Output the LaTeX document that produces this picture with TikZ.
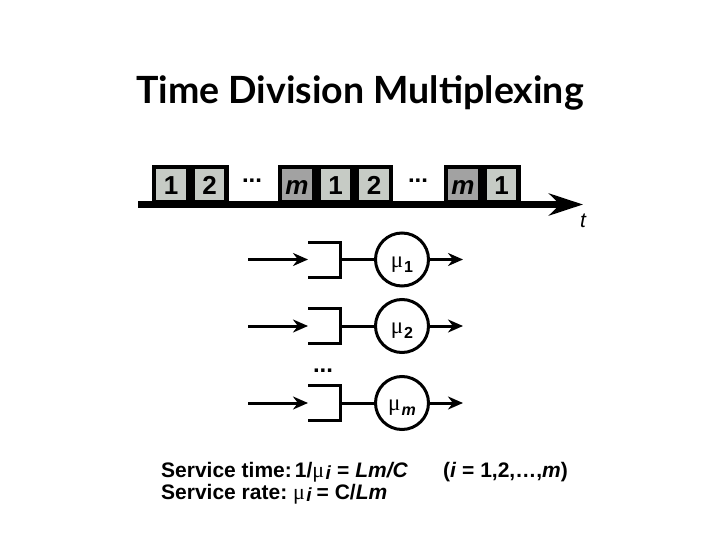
\documentclass[tikz,border=0pt]{standalone}
\usepackage{fontspec}
\setmainfont{Liberation Sans}
\newfontfamily\titlefont{Lato}
\newfontfamily\greekfont{Liberation Serif}
\usetikzlibrary{arrows.meta}
\definecolor{cSlot}{HTML}{C6CBC5}
\definecolor{cSlotM}{HTML}{A2A2A2}
\tikzset{
  slot/.style={draw=black, line width=4.5pt, fill=cSlot, minimum width=34pt,
    minimum height=35.5pt, inner sep=0pt, text height=18.5pt, text depth=0pt,
    font=\fontsize{26}{26}\selectfont\bfseries},
  mslot/.style={slot, fill=cSlotM},
  dotsl/.style={anchor=base, inner sep=0pt, font=\fontsize{24}{24}\selectfont\bfseries},
  queue/.style={minimum width=32pt, minimum height=35pt, inner sep=0pt, outer sep=0pt},
  qline/.style={line width=3pt},
  server/.style={circle, draw, line width=3pt, minimum size=53pt, inner sep=0pt,
    text height=15pt, text depth=0pt, font=\fontsize{23}{23}\selectfont},
  flow/.style={-{Stealth[length=15pt, width=13pt]}, line width=3pt},
  axis/.style={-{Stealth[length=34pt, width=22pt]}, line width=7pt},
  txt/.style={anchor=base west, inner sep=0pt, font=\fontsize{21}{21}\selectfont\bfseries},
}
\newcommand{\mulab}[1]{{\greekfont μ}\kern1pt\raisebox{-5pt}{\fontsize{16}{16}\selectfont\bfseries #1}}
\newcommand{\mutxt}{{\greekfont\mdseries\fontsize{22}{22}\selectfont μ}\kern1.5pt\raisebox{-2pt}{\fontsize{19}{19}\selectfont\itshape i}}

\begin{document}
\begin{tikzpicture}[x=1pt, y=-1pt]
    \path[use as bounding box, fill=white] (0,0) rectangle (720,540);
    % --- title ---
    \node[anchor=base, inner sep=0pt, font=\titlefont\fontsize{37.5}{37.5}\selectfont\bfseries]
      (title) at (360,104) {Time Division Multiplexing};
    % --- time slots ---
    \node[slot] (a1) at (171,185) {1};
    \node[slot] (a2) at (209.5,185) {2};
    \node[dotsl] (d1) at (252,183) {...};
    \node[mslot] (bm) at (297,185) {\itshape m};
    \node[slot] (b1) at (335.5,185) {1};
    \node[slot] (b2) at (374,185) {2};
    \node[dotsl] (d2) at (418,183) {...};
    \node[mslot] (cm) at (463,185) {\itshape m};
    \node[slot] (c1) at (501.5,185) {1};
    \coordinate (t0) at (138,204.5);
    \coordinate (t1) at (583,204.5);
    \draw[axis] (t0) -- (t1);
    \node[anchor=base, inner sep=0pt, font=\fontsize{21}{21}\selectfont\itshape]
      (tl) at (583,228) {t};
    % --- queue 1 ---
    \coordinate (in1) at (248,259.5);
    \node[queue] (q1) at (324,259.5) {};
    \node[server] (s1) at (402,259.5) {\mulab{1}};
    \coordinate (out1) at (463,259.5);
    \draw[qline] (q1.north west) -- (q1.north east) -- (q1.south east) -- (q1.south west);
    \draw[flow] (in1) -- (q1.west);
    \draw[qline] (q1.east) -- (s1.west);
    \draw[flow] (s1.east) -- (out1);
    % --- queue 2 ---
    \coordinate (in2) at (248,326);
    \node[queue] (q2) at (324,326) {};
    \node[server] (s2) at (402,326) {\mulab{2}};
    \coordinate (out2) at (463,326);
    \draw[qline] (q2.north west) -- (q2.north east) -- (q2.south east) -- (q2.south west);
    \draw[flow] (in2) -- (q2.west);
    \draw[qline] (q2.east) -- (s2.west);
    \draw[flow] (s2.east) -- (out2);
    \node[dotsl] (d3) at (323,372) {...};
    % --- queue m ---
    \coordinate (in3) at (248,403);
    \node[queue] (q3) at (324,403) {};
    \node[server] (s3) at (402,403) {\mulab{\itshape m}};
    \coordinate (out3) at (463,403);
    \draw[qline] (q3.north west) -- (q3.north east) -- (q3.south east) -- (q3.south west);
    \draw[flow] (in3) -- (q3.west);
    \draw[qline] (q3.east) -- (s3.west);
    \draw[flow] (s3.east) -- (out3);
    % --- formulas ---
    \node[txt] (stime) at (161,477)
      {Service time:\kern3pt1/\mutxt\kern6pt=\kern6pt\itshape Lm/C};
    \node[txt] (range) at (443,477) {(\textit{i} = 1,2,\ldots,\textit{m})};
    \node[txt] (srate) at (161,499)
      {Service rate:\ \mutxt\kern5pt= C/\textit{Lm}};
\end{tikzpicture}
\end{document}
